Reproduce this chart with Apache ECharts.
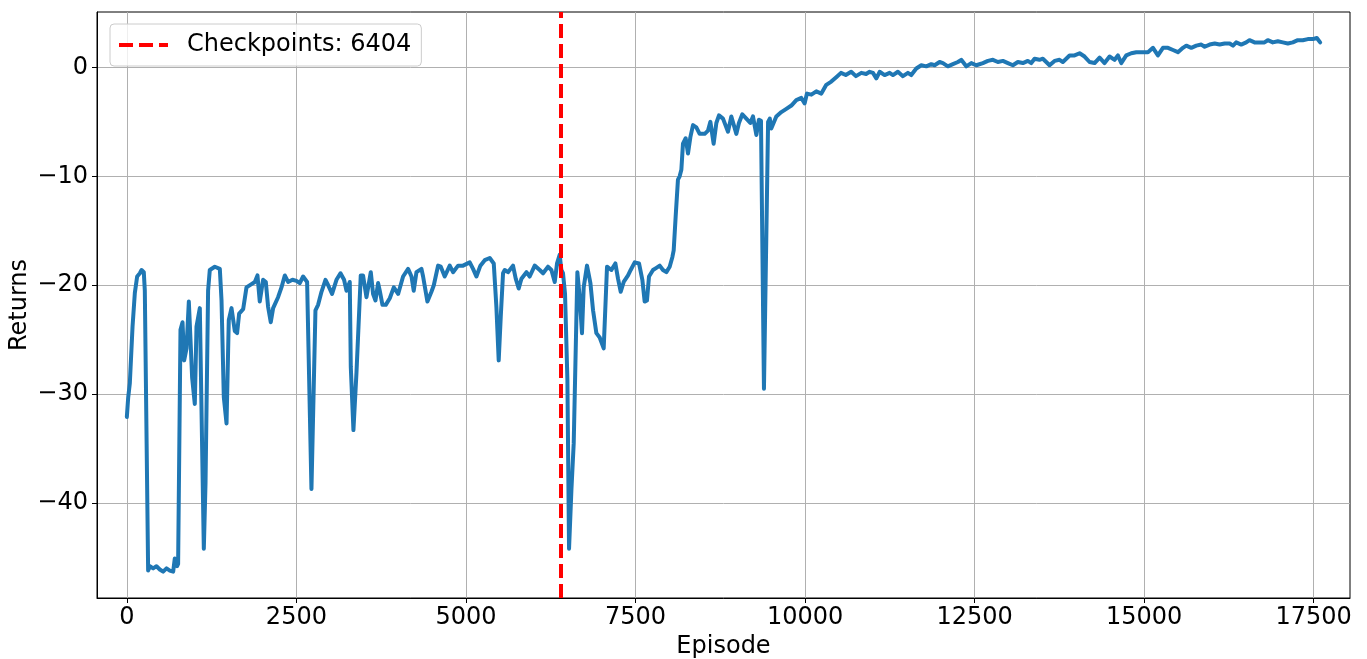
<!DOCTYPE html>
<html>
<head>
<meta charset="utf-8">
<script src="https://cdn.jsdelivr.net/npm/echarts@6/dist/echarts.min.js"></script>
<style>
  html, body { margin: 0; padding: 0; background: #ffffff; }
  #chart { width: 1367px; height: 659px; }
</style>
</head>
<body>
<div id="chart"></div>
<script>
// Training curve: smoothed episode return per episode
const episodes = [
  0, 20, 44, 84, 118, 152, 192, 217, 250, 265, 314, 339, 388, 437, 486, 535, 585, 634, 683, 707, 741, 756,
  791, 821, 845, 880, 914, 943, 963, 1002, 1027, 1076, 1135, 1160, 1198, 1223, 1297, 1371, 1396, 1430, 1470,
  1503, 1543, 1592, 1626, 1656, 1715, 1764, 1838, 1887, 1926, 1960, 2009, 2049, 2083, 2122, 2157, 2230, 2280,
  2329, 2378, 2442, 2501, 2550, 2599, 2658,
  2722, 2781, 2820, 2870, 2929, 2968, 3026, 3091, 3150, 3203, 3238, 3262, 3287, 3302, 3341, 3386, 3449, 3483,
  3533, 3597, 3631, 3666, 3705, 3729, 3769, 3818, 3877, 3936, 4000, 4073, 4147, 4197, 4230, 4270, 4344, 4368,
  4432, 4491, 4526, 4589, 4629, 4687, 4761, 4810, 4884, 4957, 5056, 5105, 5154, 5213, 5277, 5351, 5410, 5449,
  5483, 5513, 5547,
  5572, 5620, 5694, 5734, 5778, 5818, 5892, 5940, 6014, 6088, 6137, 6210, 6260, 6309, 6343, 6382, 6407, 6431,
  6461, 6496, 6520, 6555, 6589, 6614, 6643, 6677, 6711, 6736, 6785, 6835, 6874, 6923, 6972, 7031, 7080, 7144,
  7203, 7242, 7282, 7326, 7390, 7429, 7488, 7552, 7601, 7635, 7669, 7699, 7758, 7808, 7857, 7905, 7955, 8004,
  8044, 8063, 8092, 8126, 8151, 8176, 8200, 8240, 8274, 8309, 8348, 8397, 8446, 8520, 8569, 8604, 8652, 8692,
  8731, 8790, 8864, 8913, 8987, 9025, 9075, 9134, 9193, 9232, 9282, 9320, 9350, 9394, 9455, 9480, 9502, 9576,
  9650, 9724, 9798, 9871, 9945, 9994, 10028, 10093, 10166, 10240, 10313, 10387, 10460, 10530, 10600, 10680,
  10750, 10830, 10900, 10952,
  11001, 11051, 11100, 11173, 11247, 11296, 11369, 11443, 11517, 11566, 11640, 11714, 11788, 11861, 11910,
  11984, 12033, 12106, 12180, 12254, 12303, 12377, 12451, 12525, 12622, 12696, 12770, 12843, 12917, 12991,
  13064, 13138, 13212, 13285, 13335, 13384, 13457, 13506, 13556, 13605, 13679, 13752, 13801, 13851, 13900,
  13974, 14048, 14121, 14195, 14269, 14343, 14416, 14490, 14564, 14613, 14662, 14736, 14810, 14884, 14982,
  15056, 15130, 15203, 15277, 15351, 15425, 15498, 15572, 15621, 15695, 15769, 15843, 15892, 15966, 16040,
  16113, 16187, 16261, 16310, 16357, 16431, 16505, 16553, 16627, 16700, 16774, 16823, 16897, 16971, 17044,
  17118, 17192, 17265, 17339, 17413, 17487, 17546, 17595
];

const returns = [
  -32.1, -30.3, -29.0, -23.8, -20.7, -19.2, -18.9, -18.6, -18.8, -20.5, -46.2, -45.8, -46.0, -45.8, -46.1, -46.3,
  -46.0, -46.2, -46.3, -45.1, -45.8, -45.6,
  -24.1, -23.4, -26.9, -25.8, -21.5, -21.5, -28.5, -30.9, -23.8, -22.1, -44.2, -38.2, -20.5, -18.6, -18.3,
  -18.5, -21.4, -30.3, -32.7,
  -23.2, -22.1, -24.2, -24.4, -22.6, -22.2, -20.2, -19.9, -19.7, -19.1, -21.5, -19.5, -19.7, -22.0, -23.4,
  -22.1, -21.1, -20.2,
  -19.1, -19.7, -19.5, -19.6, -19.8, -19.2, -19.7,
  -38.7, -22.3, -21.8, -20.6, -19.5, -20.0, -20.8, -19.5, -18.9, -19.5, -20.5, -20.6, -19.7, -27.5, -33.3,
  -28.0, -19.1, -19.1,
  -21.1, -18.8, -20.8, -21.4, -19.8, -20.5, -21.8, -21.8, -21.2, -20.2, -20.8, -19.2, -18.5, -19.2, -20.5,
  -18.8, -18.5, -19.2,
  -21.5, -20.6, -20.0, -18.2, -18.3, -19.2, -18.2, -18.8, -18.2, -18.2, -17.9, -18.5, -19.2, -18.2, -17.7,
  -17.5, -18.0, -22.0,
  -26.9, -22.9, -18.9,
  -18.6, -18.8, -18.2, -19.4, -20.3, -19.4, -18.8, -19.2, -18.2, -18.6, -18.9, -18.3, -18.6, -19.7, -18.0,
  -17.2, -18.6, -18.9,
  -20.8, -28.7, -44.2, -38.8, -34.5, -27.2, -18.8, -21.1, -24.4, -20.2, -18.2, -19.8, -22.3, -24.4, -24.8,
  -25.8, -18.3, -18.6,
  -18.0, -19.4, -20.6, -19.7, -19.1, -18.6, -17.9, -18.0, -19.5, -21.5, -21.4, -19.2, -18.6, -18.4, -18.2,
  -18.6, -18.8, -18.3,
  -17.4, -16.8, -13.7, -10.3, -10.0, -9.4, -7.0, -6.5, -7.9, -6.4, -5.3, -5.5, -6.1, -6.1, -5.8, -5.0, -7.0,
  -5.1,
  -4.4, -4.7, -5.9, -4.5, -6.1, -5.1, -4.3, -4.7, -5.1, -4.5, -6.2, -4.8, -4.9, -29.5, -5.0, -4.7, -5.6, -4.5,
  -4.1, -3.8, -3.5, -3.0, -2.8, -3.3, -2.4, -2.5, -2.2, -2.4, -1.6, -1.3, -0.9, -0.5, -0.7, -0.4,
  -0.8, -0.5, -0.6, -0.4,
  -0.5, -1.0, -0.4, -0.7, -0.5, -0.7, -0.4, -0.8, -0.5, -0.7, -0.1, 0.2, 0.1, 0.3, 0.2,
  0.5, 0.4, 0.1, 0.3, 0.5, 0.7, 0.1, 0.4, 0.2, 0.4, 0.6, 0.7, 0.5, 0.6, 0.4,
  0.2, 0.5, 0.4, 0.6, 0.4, 0.8, 0.7, 0.8, 0.5, 0.2, 0.6, 0.7, 0.5, 0.8, 1.1,
  1.1, 1.3, 1.0, 0.5, 0.4, 0.9, 0.4, 1.0, 0.7, 1.1, 0.4, 1.1, 1.3, 1.4, 1.4,
  1.4, 1.8, 1.1, 1.8, 1.8, 1.6, 1.4, 1.8, 2.0, 1.8, 2.0, 2.1, 1.9, 2.1, 2.2,
  2.1, 2.2, 2.2, 2.0, 2.3, 2.1, 2.3, 2.5, 2.3, 2.3, 2.3, 2.5, 2.3, 2.4, 2.3,
  2.2, 2.3, 2.5, 2.5, 2.6, 2.6, 2.7, 2.3
];

const xTicks = [0, 2500, 5000, 7500, 10000, 12500, 15000, 17500];
const yTicks = [-40, -30, -20, -10, 0];
const xRange = [-440, 18035];
const yRange = [-48.72, 5.09];
const checkpointEpisode = 6404;
const checkpointLabel = 'Checkpoints: ' + checkpointEpisode;

const FONT = 'DejaVu Sans';
const FONT_SIZE = 24;
const DASH = [14, 6];
const minus = v => String(v).replace('-', '\u2212');

// three red dashes used as the legend key of the checkpoint line
const dashedKey = 'path://M0,0H14V4H0Z M20,0H34V4H20Z M40,0H49V4H40Z';

const chart = echarts.init(document.getElementById('chart'), null, { renderer: 'canvas' });

const axisCommon = {
  axisLine: { show: true, onZero: false, lineStyle: { color: '#000', width: 1 } },
  axisTick: { show: true, inside: false, length: 5, lineStyle: { color: '#000', width: 1 } },
  splitLine: { show: true, lineStyle: { color: '#b0b0b0', width: 1 } },
  nameTextStyle: { fontFamily: FONT, fontSize: FONT_SIZE, color: '#000' }
};

chart.setOption({
  animation: false,
  backgroundColor: '#ffffff',
  grid: {
    left: 97, right: 17, top: 12, bottom: 61,
    show: true, borderColor: '#000', borderWidth: 1, backgroundColor: 'transparent',
    containLabel: false, outerBoundsMode: 'none'
  },
  legend: {
    data: [{ name: checkpointLabel, icon: dashedKey }],
    left: 110, top: 24,
    orient: 'horizontal',
    padding: [9, 10, 9, 9],
    backgroundColor: 'rgba(255,255,255,0.8)',
    borderColor: '#cccccc', borderWidth: 1, borderRadius: 4,
    itemWidth: 49, itemHeight: 4,
    symbolKeepAspect: false,
    textStyle: { fontFamily: FONT, fontSize: FONT_SIZE, color: '#000', padding: [0, 0, 0, 14] },
    selectedMode: false
  },
  xAxis: Object.assign({}, axisCommon, {
    type: 'value',
    min: xRange[0], max: xRange[1],
    name: 'Episode', nameLocation: 'middle', nameGap: 32,
    axisTick: Object.assign({}, axisCommon.axisTick, { customValues: xTicks }),
    axisLabel: { customValues: xTicks, margin: 8, fontFamily: FONT, fontSize: FONT_SIZE, color: '#000',
                 formatter: v => minus(v) }
  }),
  yAxis: Object.assign({}, axisCommon, {
    type: 'value',
    min: yRange[0], max: yRange[1],
    name: 'Returns', nameLocation: 'middle', nameGap: 65, nameMoveOverlap: false,
    axisTick: Object.assign({}, axisCommon.axisTick, { customValues: yTicks }),
    axisLabel: { customValues: yTicks, margin: 9, fontFamily: FONT, fontSize: FONT_SIZE, color: '#000',
                 formatter: v => minus(v) }
  }),
  series: [
    {
      name: 'Returns',
      type: 'line',
      data: episodes.map((e, i) => [e, returns[i]]),
      showSymbol: false, symbol: 'none',
      lineStyle: { color: '#1f77b4', width: 4, join: 'round', cap: 'round' },
      itemStyle: { color: '#1f77b4' },
      z: 2
    },
    {
      name: checkpointLabel,
      type: 'line',
      data: [],
      symbol: 'none',
      itemStyle: { color: '#ff0000' },
      lineStyle: { color: '#ff0000', width: 4, type: DASH },
      markLine: {
        silent: true,
        symbol: ['none', 'none'],
        label: { show: false },
        lineStyle: { color: '#ff0000', width: 4, type: DASH },
        data: [{ xAxis: checkpointEpisode }]
      },
      z: 3
    }
  ]
});
</script>
</body>
</html>
